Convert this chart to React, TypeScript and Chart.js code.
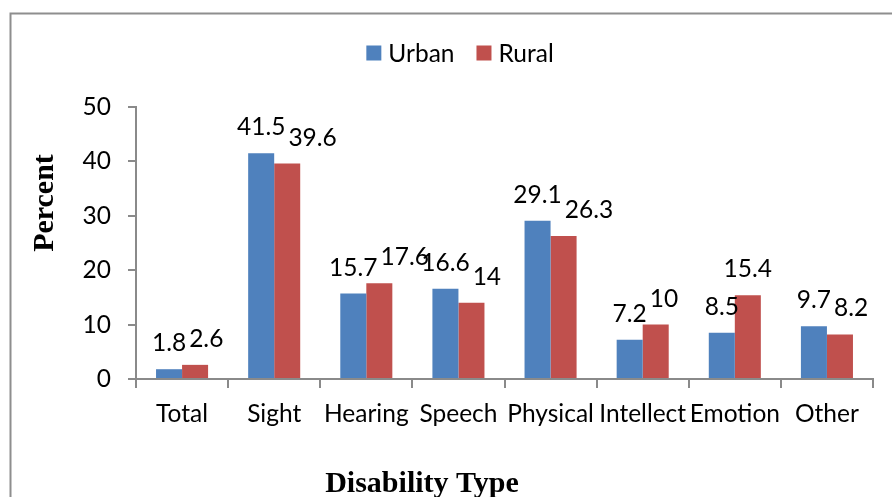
import React, { useEffect, useRef } from "react";
import { Chart, registerables } from "chart.js";

Chart.register(...registerables);

const categories = ["Total", "Sight", "Hearing", "Speech", "Physical", "Intellect", "Emotion", "Other"];
const urbanValues = [1.8, 41.5, 15.7, 16.6, 29.1, 7.2, 8.5, 9.7];
const ruralValues = [2.6, 39.6, 17.6, 14, 26.3, 10, 15.4, 8.2];
const seriesNames = ["Urban", "Rural"];
const yTickMax = 50;
const yTickStep = 10;
const xTitle = "Disability Type";
const yTitle = "Percent";

const BLUE = "#4F81BD";
const RED = "#C0504D";
const AXIS = "#8a8a8a";
const FONT = "Lato, 'Noto Sans', sans-serif";
const FS = 24.5;

const framePlugin = {
  id: "frame",
  beforeDraw(chart: any) {
    const ctx = chart.ctx;
    ctx.save();
    ctx.fillStyle = "#fff";
    ctx.fillRect(0, 0, chart.width, chart.height);
    ctx.strokeStyle = "#8e8e8e";
    ctx.lineWidth = 2;
    ctx.beginPath();
    ctx.moveTo(10.5, chart.height + 2);
    ctx.lineTo(10.5, 13.5);
    ctx.lineTo(chart.width + 2, 13.5);
    ctx.stroke();
    ctx.restore();
  },
};

const decorPlugin = {
  id: "decor",
  afterDatasetsDraw(chart: any) {
    const ctx = chart.ctx;
    ctx.save();
    ctx.font = `${FS}px ${FONT}`;
    ctx.fillStyle = "#000";
    ctx.textBaseline = "alphabetic";
    ctx.textAlign = "left";
    const m0 = chart.getDatasetMeta(0);
    const m1 = chart.getDatasetMeta(1);
    const ds = chart.data.datasets;
    for (let i = 0; i < categories.length; i++) {
      const b0 = m0.data[i];
      const b1 = m1.data[i];
      const t0 = String(ds[0].data[i]);
      const t1 = String(ds[1].data[i]);
      const w0 = ctx.measureText(t0).width;
      const w1 = ctx.measureText(t1).width;
      const y0 = b0.y - 18;
      const y1 = b1.y - 18;
      let x0 = b0.x - w0 / 2;
      let x1 = b1.x - w1 / 2;
      if (Math.abs(y0 - y1) < 17 && x1 < x0 + w0 + 3) {
        x1 = x0 + w0 + 3;
      }
      ctx.fillText(t0, x0, y0);
      ctx.fillText(t1, x1, y1);
    }
    // legend
    const colors = [BLUE, RED];
    const box = 15;
    const gapText = 7;
    const gapItem = 22;
    const widths = seriesNames.map((n) => ctx.measureText(n).width);
    let total = 0;
    widths.forEach((w, k) => {
      total += box + gapText + w + (k < widths.length - 1 ? gapItem : 0);
    });
    let lx = 460 - total / 2;
    const ly = 53;
    ctx.textBaseline = "middle";
    seriesNames.forEach((n, k) => {
      ctx.fillStyle = colors[k];
      ctx.fillRect(lx, ly - box / 2, box, box);
      ctx.fillStyle = "#000";
      ctx.fillText(n, lx + box + gapText, ly + 1);
      lx += box + gapText + widths[k] + gapItem;
    });
    // axis titles
    ctx.font = `bold 30px 'Liberation Serif', 'Times New Roman', serif`;
    ctx.textAlign = "center";
    ctx.textBaseline = "alphabetic";
    ctx.fillText(xTitle, 422, 492);
    ctx.translate(53, 203);
    ctx.rotate(-Math.PI / 2);
    ctx.fillText(yTitle, 0, 0);
    ctx.restore();
  },
};

export default function App() {
  const ref = useRef<HTMLCanvasElement>(null);
  useEffect(() => {
    if (!ref.current) return;
    const chart = new Chart(ref.current, {
      type: "bar",
      data: {
        labels: categories,
        datasets: [
          { label: seriesNames[0], data: urbanValues, backgroundColor: BLUE, barPercentage: 1, categoryPercentage: 0.565 },
          { label: seriesNames[1], data: ruralValues, backgroundColor: RED, barPercentage: 1, categoryPercentage: 0.565 },
        ],
      },
      options: {
        responsive: false,
        animation: false,
        layout: { padding: { left: 0, top: 107, right: 19, bottom: 0 } },
        plugins: { legend: { display: false }, title: { display: false }, tooltip: { enabled: false } },
        scales: {
          x: {
            grid: { display: true, drawOnChartArea: false, color: AXIS, lineWidth: 2, tickLength: 9, offset: true },
            border: { color: AXIS, width: 2 },
            ticks: { color: "#000", font: { family: FONT, size: FS }, padding: 11, maxRotation: 0, autoSkip: false },
            afterFit(scale: any) {
              scale.height = 118;
            },
          },
          y: {
            min: 0,
            max: yTickMax,
            grid: { display: true, drawOnChartArea: false, color: AXIS, lineWidth: 2, tickLength: 8 },
            border: { color: AXIS, width: 2 },
            ticks: { stepSize: yTickStep, color: "#000", font: { family: FONT, size: FS }, padding: 17 },
            afterFit(scale: any) {
              scale.width = 136;
            },
          },
        },
      },
      plugins: [framePlugin, decorPlugin],
    });
    return () => chart.destroy();
  }, []);
  return (
    <div style={{ position: "fixed", left: 0, top: 0, width: 892, height: 497, background: "#fff" }}>
      <canvas ref={ref} width={892} height={497} style={{ display: "block" }} />
    </div>
  );
}
